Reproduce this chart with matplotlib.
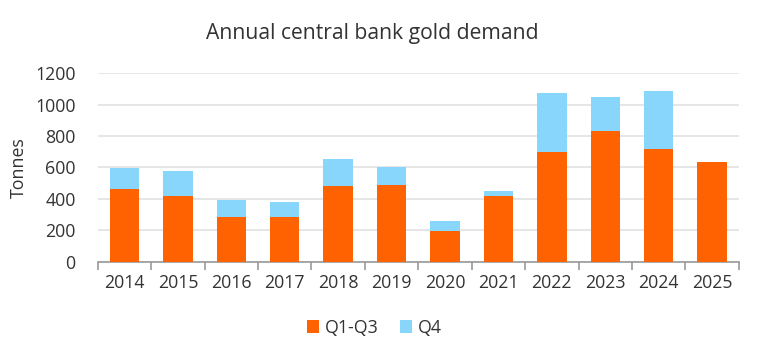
import matplotlib
matplotlib.use('Agg')
import matplotlib.pyplot as plt
import numpy as np

# Data (tonnes)
years = ['2014', '2015', '2016', '2017', '2018', '2019', '2020',
         '2021', '2022', '2023', '2024', '2025']
q1_q3 = [465, 420, 287, 287, 480, 486, 198, 420, 701, 835, 720, 633]
q4 = [134, 160, 106, 91, 174, 119, 61, 30, 372, 212, 368, 0]

plt.rcParams['font.family'] = ['Open Sans', 'DejaVu Sans']
text_col = '#333333'

fig = plt.figure(figsize=(7.64, 3.47), dpi=100)
ax = fig.add_axes([0.128, 0.246, 0.839, 0.543])

x = np.arange(len(years))
ax.bar(x, q1_q3, width=0.55, color='#FF6200', label='Q1-Q3', zorder=3)
ax.bar(x, q4, width=0.55, bottom=q1_q3, color='#89D6FD', label='Q4', zorder=3)

ax.set_xlim(-0.5, len(years) - 0.5)
ax.set_ylim(0, 1200)
ax.set_yticks(range(0, 1201, 200))
ax.grid(axis='y', color='#E2E2E2', linewidth=1.2, zorder=0)
ax.set_axisbelow(True)

for s in ['top', 'right', 'left']:
    ax.spines[s].set_visible(False)
ax.spines['bottom'].set_color('#999999')
ax.spines['bottom'].set_linewidth(1.2)

# category labels centred, tick marks on the boundaries
ax.set_xticks(x)
ax.set_xticklabels(years)
ax.tick_params(axis='x', length=0, pad=9, labelsize=12.8, colors=text_col)
ax.set_xticks(np.arange(-0.5, len(years)), minor=True)
ax.tick_params(axis='x', which='minor', length=6, color='#999999', width=1.2)
ax.tick_params(axis='y', length=0, pad=16, labelsize=12.8, colors=text_col)

ax.set_ylabel('Tonnes', fontsize=12.8, color=text_col, labelpad=5)
fig.text(0.487, 0.903, 'Annual central bank gold demand', ha='center',
         va='center', fontsize=15.2, color=text_col)

leg = fig.legend(loc='center', bbox_to_anchor=(0.49, 0.055), ncol=2,
                 frameon=False, fontsize=12.8, handlelength=0.7,
                 handleheight=0.7, handletextpad=0.3, columnspacing=1.2,
                 labelcolor=text_col)

fig.savefig('out.png', dpi=100)
